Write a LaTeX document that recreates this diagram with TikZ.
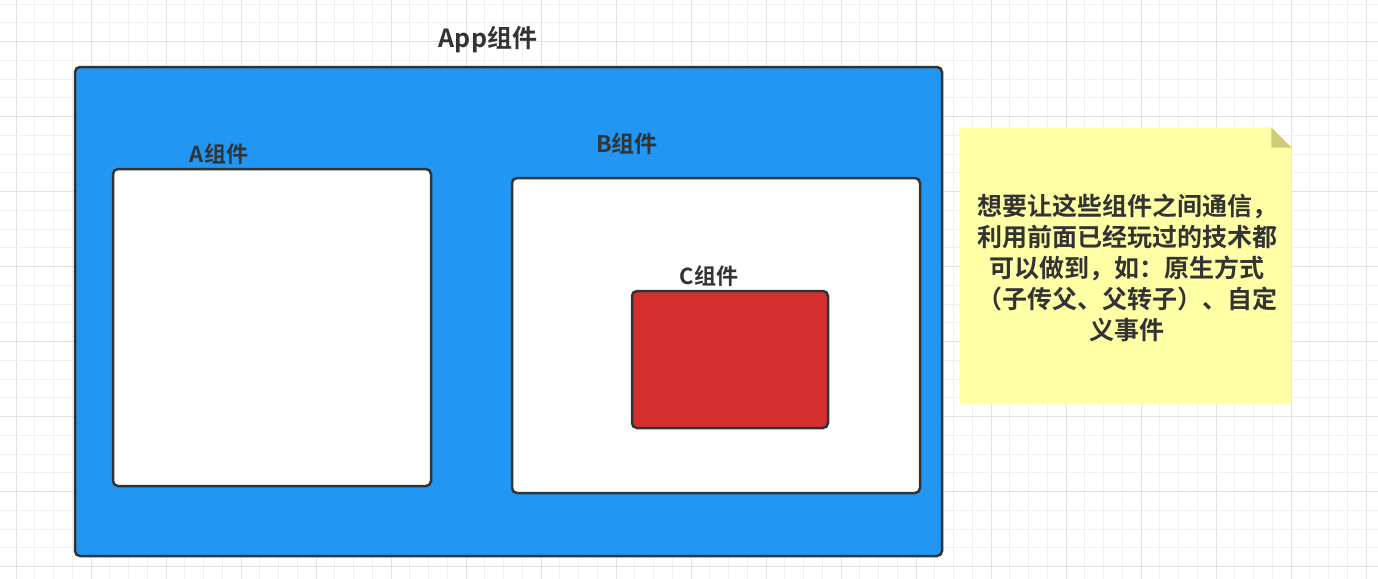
\documentclass[tikz,border=0pt]{standalone}
\usepackage{fontspec}
\setmainfont{Noto Sans CJK SC}[BoldFont={Noto Sans CJK SC Bold}]
\definecolor{txt}{RGB}{51,51,51}
\definecolor{edge}{RGB}{51,51,51}
\definecolor{appblue}{RGB}{33,150,243}
\definecolor{cred}{RGB}{211,47,47}
\definecolor{noteyellow}{RGB}{255,255,166}
\definecolor{notefold}{RGB}{205,205,120}
\definecolor{gridminor}{RGB}{240,240,240}
\definecolor{gridmajor}{RGB}{226,226,226}
\tikzset{
  compbox/.style={draw=edge, line width=1.25pt, rounded corners=2.5pt, inner sep=0pt},
  lbl/.style={text=txt, font=\bfseries\fontsize{11}{13}\selectfont, inner sep=0pt},
}
\begin{document}
\begin{tikzpicture}[x=0.5pt,y=-0.5pt]
\useasboundingbox (0,0) rectangle (1378,579);
\fill[white] (0,0) rectangle (1378,579);
% grid
\foreach \i in {0,...,72}{
  \pgfmathtruncatemacro{\m}{mod(\i,4)}
  \ifnum\m=0 \def\gc{gridmajor}\else\def\gc{gridminor}\fi
  \draw[\gc, line width=0.5pt] ({16+18.75*\i},0) -- ({16+18.75*\i},579);
}
\foreach \j in {0,...,30}{
  \pgfmathtruncatemacro{\m}{mod(\j,4)}
  \ifnum\m=2 \def\gc{gridmajor}\else\def\gc{gridminor}\fi
  \draw[\gc, line width=0.5pt] (0,{4.2+18.75*\j}) -- (1378,{4.2+18.75*\j});
}
% boxes
\node[compbox, fill=appblue, minimum width=433.5pt, minimum height=244.5pt] (app) at (508.5,311.5) {};
\node[compbox, fill=white, minimum width=159pt, minimum height=158.5pt] (a) at (272,327.5) {};
\node[compbox, fill=white, minimum width=204pt, minimum height=157.5pt] (b) at (716,335.5) {};
\node[compbox, fill=cred, minimum width=98pt, minimum height=68.5pt] (c) at (730,359.5) {};
% labels
\node[lbl, font=\bfseries\fontsize{12.5}{15}\selectfont] (applbl) at (488,40) {App组件};
\node[lbl] (albl) at (219,154) {A组件};
\node[lbl, font=\bfseries\fontsize{11.5}{14}\selectfont] (blbl) at (627,144) {B组件};
\node[lbl] (clbl) at (709,276) {C组件};
% note
\node[minimum width=165.5pt, minimum height=138pt, inner sep=0pt] (note) at (1125.5,266) {};
\fill[noteyellow] (note.south west) -- (note.north west) -- ([xshift=-10pt]note.north east) -- ([yshift=-10pt]note.north east) -- (note.south east) -- cycle;
\fill[notefold] ([xshift=-10pt]note.north east) -- ([xshift=-10pt,yshift=-10pt]note.north east) -- ([yshift=-10pt]note.north east) -- cycle;
\node[text=txt, font=\bfseries\fontsize{12.5}{15.5}\selectfont, align=center, inner sep=0pt] (notetext) at (1127,268) {想要让这些组件之间通信，\\利用前面已经玩过的技术都\\可以做到，如：原生方式\\（子传父、父转子）、自定\\义事件};
\end{tikzpicture}
\end{document}
